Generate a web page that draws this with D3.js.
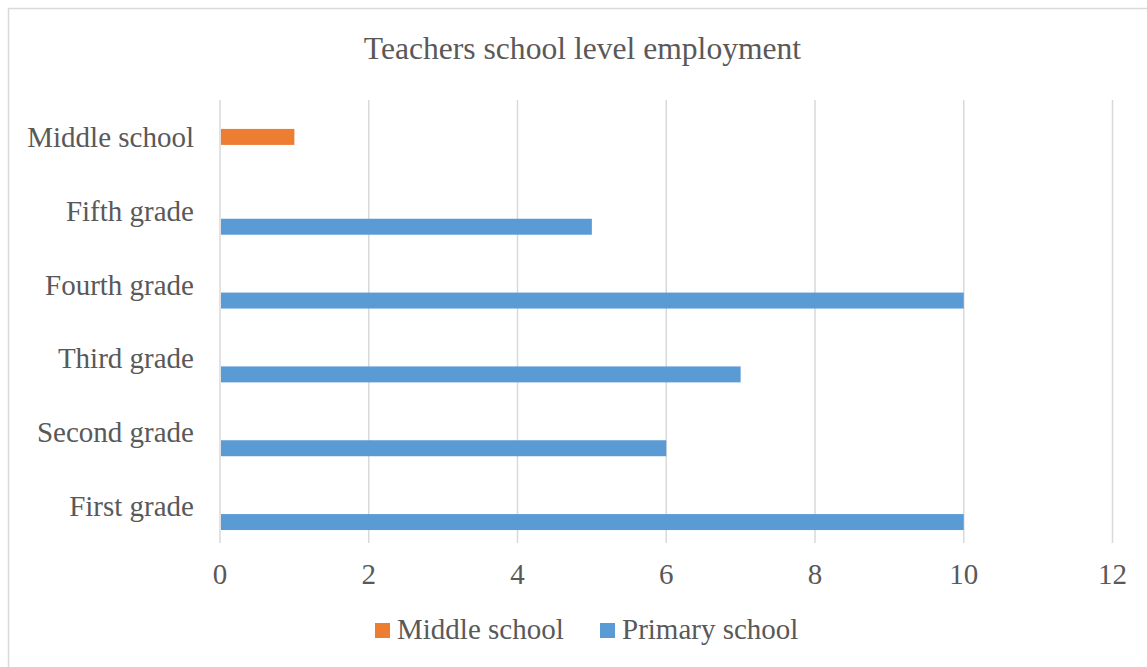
<!DOCTYPE html>
<html lang="en">
    <head>
        <meta charset="utf-8">
        <title>Teachers school level employment</title>
        <script type="text/javascript" src="https://d3js.org/d3.v7.min.js"></script>
        <style type="text/css">
            body { margin: 0; background: #fff; }
            text {
                font-family: "Liberation Serif", "Times New Roman", serif;
                fill: #595959;
            }
        </style>
    </head>
    <body>
        <script type="text/javascript">

        // Data
        var categories = ["First grade", "Second grade", "Third grade", "Fourth grade", "Fifth grade", "Middle school"];
        var primaryValues = [10, 6, 7, 10, 5, 0];
        var middleValues = [0, 0, 0, 0, 0, 1];
        var xTicks = [0, 2, 4, 6, 8, 10, 12];
        var seriesNames = ["Middle school", "Primary school"];
        var seriesColors = ["#ED7D31", "#5B9BD5"];
        // third slot is an empty series, it keeps the bars off centre like in the original
        var slots = ["(empty)", "Middle school", "Primary school"];

        var w = 1147;
        var h = 667;

        var svg = d3.select("body")
                    .append("svg")
                    .attr("width", w)
                    .attr("height", h);

        // chart border
        svg.append("rect")
            .attr("x", 8.5)
            .attr("y", 8.5)
            .attr("width", 1160)
            .attr("height", 680)
            .attr("fill", "#fff")
            .attr("stroke", "#d9d9d9")
            .attr("stroke-width", 1.5);

        // Title
        svg.append("text")
            .attr("x", 582.5)
            .attr("y", 58.5)
            .attr("text-anchor", "middle")
            .style("font-size", "31.6px")
            .text("Teachers school level employment");

        // Scales
        var x = d3.scaleLinear()
                  .domain([0, 12])
                  .range([220, 1112.5]);

        var y = d3.scaleBand()
                  .domain(categories.slice().reverse())
                  .range([100, 543])
                  .padding(0);

        var gap = 0.54;
        var pad = y.bandwidth() * gap / (2 * (1 + gap));
        var ySlot = d3.scaleBand()
                      .domain(slots)
                      .range([pad, y.bandwidth() - pad]);

        // Gridlines
        svg.append("g")
            .selectAll("line")
            .data(xTicks)
            .enter()
            .append("line")
            .attr("x1", function(d){ return x(d); })
            .attr("x2", function(d){ return x(d); })
            .attr("y1", 100)
            .attr("y2", 543)
            .attr("stroke", "#d9d9d9")
            .attr("stroke-width", 1.5);

        // Tick labels
        svg.append("g")
            .selectAll("text")
            .data(xTicks)
            .enter()
            .append("text")
            .attr("x", function(d){ return x(d); })
            .attr("y", 584)
            .attr("text-anchor", "middle")
            .style("font-size", "29px")
            .text(function(d){ return d; });

        // Category labels
        svg.append("g")
            .selectAll("text")
            .data(categories)
            .enter()
            .append("text")
            .attr("x", 194)
            .attr("y", function(d){ return y(d) + y.bandwidth() / 2 + 10; })
            .attr("text-anchor", "end")
            .style("font-size", "29px")
            .text(function(d){ return d; });

        // Bars
        var rows = [];
        categories.forEach(function(c, i){
            rows.push({ cat: c, series: "Middle school", value: middleValues[i], color: seriesColors[0] });
            rows.push({ cat: c, series: "Primary school", value: primaryValues[i], color: seriesColors[1] });
        });

        svg.append("g")
            .selectAll("rect")
            .data(rows.filter(function(d){ return d.value > 0; }))
            .enter()
            .append("rect")
            .attr("x", x(0) + 1)
            .attr("y", function(d){ return y(d.cat) + ySlot(d.series); })
            .attr("width", function(d){ return x(d.value) - x(0) - 1; })
            .attr("height", ySlot.bandwidth())
            .attr("fill", function(d){ return d.color; });

        // Legend
        var legendX = [375, 600];
        var legend = svg.append("g")
                        .selectAll("g")
                        .data(seriesNames)
                        .enter()
                        .append("g")
                        .attr("transform", function(d, i){ return "translate(" + legendX[i] + ",623)"; });

        legend.append("rect")
            .attr("width", 15)
            .attr("height", 15)
            .attr("fill", function(d, i){ return seriesColors[i]; });

        legend.append("text")
            .attr("x", 22)
            .attr("y", 16)
            .style("font-size", "29px")
            .text(function(d){ return d; });

        </script>
    </body>
</html>
